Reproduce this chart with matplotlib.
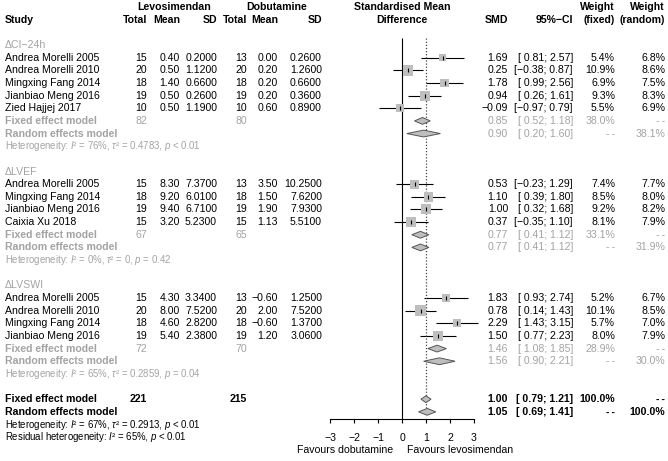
import matplotlib
matplotlib.use("Agg")
import matplotlib.pyplot as plt
from matplotlib.patches import Polygon

plt.rcParams['font.family'] = ['Liberation Sans', 'DejaVu Sans']
plt.rcParams['mathtext.fontset'] = 'custom'
plt.rcParams['mathtext.rm'] = 'Liberation Sans'
plt.rcParams['mathtext.it'] = 'Liberation Sans:italic'

# ---- data ----
group_labels = ['ΔCI−24h', 'ΔLVEF', 'ΔLVSWI']

study_names = [
    ['Andrea Morelli 2005', 'Andrea Morelli 2010', 'Mingxing Fang 2014', 'Jianbiao Meng 2016', 'Zied Hajjej 2017'],
    ['Andrea Morelli 2005', 'Mingxing Fang 2014', 'Jianbiao Meng 2016', 'Caixia Xu 2018'],
    ['Andrea Morelli 2005', 'Andrea Morelli 2010', 'Mingxing Fang 2014', 'Jianbiao Meng 2016'],
]
levo_n = [[15, 20, 18, 19, 10], [15, 18, 19, 15], [15, 20, 18, 19]]
levo_mean = [[0.40, 0.50, 1.40, 0.50, 0.50], [8.30, 9.20, 9.40, 3.20], [4.30, 8.00, 4.60, 5.40]]
levo_sd = [[0.20, 1.12, 0.66, 0.26, 1.19], [7.37, 6.01, 6.71, 5.23], [3.34, 7.52, 2.82, 2.38]]
dobu_n = [[13, 20, 18, 19, 10], [13, 18, 19, 15], [13, 20, 18, 19]]
dobu_mean = [[0.00, 0.20, 0.20, 0.20, 0.60], [3.50, 1.50, 1.90, 1.13], [-0.60, 2.00, -0.60, 1.20]]
dobu_sd = [[0.26, 1.26, 0.66, 0.36, 0.89], [10.25, 7.62, 7.93, 5.51], [1.25, 7.52, 1.37, 3.06]]

smd = [[1.69, 0.25, 1.78, 0.94, -0.09], [0.53, 1.10, 1.00, 0.37], [1.83, 0.78, 2.29, 1.50]]
ci_lo = [[0.81, -0.38, 0.99, 0.26, -0.97], [-0.23, 0.39, 0.32, -0.35], [0.93, 0.14, 1.43, 0.77]]
ci_hi = [[2.57, 0.87, 2.56, 1.61, 0.79], [1.29, 1.80, 1.68, 1.10], [2.74, 1.43, 3.15, 2.23]]
w_fixed = [[5.4, 10.9, 6.9, 9.3, 5.5], [7.4, 8.5, 9.2, 8.1], [5.2, 10.1, 5.7, 8.0]]
w_random = [[6.8, 8.6, 7.5, 8.3, 6.9], [7.7, 8.0, 8.2, 7.9], [6.7, 8.5, 7.0, 7.9]]

# subgroup pooled estimates: (smd, lo, hi, weight)
sub_fixed = [(0.85, 0.52, 1.18, 38.0), (0.77, 0.41, 1.12, 33.1), (1.46, 1.08, 1.85, 28.9)]
sub_random = [(0.90, 0.20, 1.60, 38.1), (0.77, 0.41, 1.12, 31.9), (1.56, 0.90, 2.21, 30.0)]
sub_tot_levo = [82, 67, 72]
sub_tot_dobu = [80, 65, 70]
sub_het = [('76%', '0.4783', '< 0.01'), ('0%', '0', '= 0.42'), ('65%', '0.2859', '= 0.04')]

overall_fixed = (1.00, 0.79, 1.21)
overall_random = (1.05, 0.69, 1.41)
overall_tot_levo = 221
overall_tot_dobu = 215
overall_het = ('67%', '0.2913', '< 0.01')
resid_het = ('65%', '< 0.01')

# ---- layout ----
W, H = 668, 461
ROW0, DROW = 7.05, 12.65          # pixel position of row 0 and row spacing
y_top = (0 - ROW0) / DROW
y_bot = (H - ROW0) / DROW

GREY = '#a3a3a3'
SQ = '#bebebe'
FS = 7.6
FS_HET = 6.9
DASH = '-\u2009-'

fig = plt.figure(figsize=(W / 100, H / 100), dpi=100)
tax = fig.add_axes([0, 0, 1, 1])
tax.set_xlim(0, W)
tax.set_ylim(y_bot, y_top)
tax.axis('off')

fax = fig.add_axes([330 / W, 0, 144 / W, 1])
fax.set_xlim(-3, 3)
fax.set_ylim(y_bot, y_top)
fax.patch.set_alpha(0)

# column right edges (pixels)
X_STUDY = 5
X_LN, X_LM, X_LS = 147, 180, 217
X_DN, X_DM, X_DS = 247, 278, 322
X_SMD, X_CI, X_WF, X_WR = 508, 573, 615, 665


def fnum(v, d):
    s = f'{v:.{d}f}'
    return s.replace('-', '−')


def fci(lo, hi):
    a = fnum(lo, 2)
    if lo >= 0:
        a = ' ' + a
    return f'[{a}; {fnum(hi, 2)}]'


def txt(x, y, s, ha='right', **kw):
    kw.setdefault('fontsize', FS)
    tax.text(x, y, s, ha=ha, va='center', **kw)


def diamond(est, lo, hi, y, h=0.27):
    fax.add_patch(Polygon([(lo, y), (est, y - h), (hi, y), (est, y + h)], closed=True,
                          facecolor=SQ, edgecolor='#555555', lw=0.7, clip_on=False, zorder=4))


def het_text(y, vals, color):
    i2, t2, p = vals
    s = 'Heterogeneity: $I$² = ' + i2 + r', $\tau$² = ' + t2 + ', $p$ ' + p
    txt(X_STUDY, y, s, ha='left', fontsize=FS_HET, color=color)


# ---- header ----
hb = dict(fontweight='bold')
txt((X_LN + X_LS) / 2 - 8, 0, 'Levosimendan', ha='center', **hb)
txt((X_DN + X_DS) / 2 - 8, 0, 'Dobutamine', ha='center', **hb)
txt(X_STUDY, 1, 'Study', ha='left', **hb)
for x, s in [(X_LN, 'Total'), (X_LM, 'Mean'), (X_LS, 'SD'),
             (X_DN, 'Total'), (X_DM, 'Mean'), (X_DS, 'SD')]:
    txt(x, 1, s, **hb)
txt(402, 0, 'Standardised Mean', ha='center', **hb)
txt(402, 1, 'Difference', ha='center', **hb)
txt(X_SMD, 1, 'SMD', **hb)
txt(X_CI, 1, '95%−CI', **hb)
txt(X_WF, 0, 'Weight', **hb)
txt(X_WF, 1, '(fixed)', **hb)
txt(X_WR, 0, 'Weight', **hb)
txt(X_WR, 1, '(random)', **hb)

# ---- subgroups ----
row = 3
for g in range(len(group_labels)):
    txt(X_STUDY, row, group_labels[g], ha='left', color=GREY)
    row += 1
    for i, name in enumerate(study_names[g]):
        txt(X_STUDY, row, name, ha='left')
        txt(X_LN, row, str(levo_n[g][i]))
        txt(X_LM, row, fnum(levo_mean[g][i], 2))
        txt(X_LS, row, fnum(levo_sd[g][i], 4))
        txt(X_DN, row, str(dobu_n[g][i]))
        txt(X_DM, row, fnum(dobu_mean[g][i], 2))
        txt(X_DS, row, fnum(dobu_sd[g][i], 4))
        txt(X_SMD, row, fnum(smd[g][i], 2))
        txt(X_CI, row, fci(ci_lo[g][i], ci_hi[g][i]))
        txt(X_WF, row, f'{w_fixed[g][i]:.1f}%')
        txt(X_WR, row, f'{w_random[g][i]:.1f}%')

        fax.hlines(row, ci_lo[g][i], ci_hi[g][i], color='black', lw=0.8, zorder=2, clip_on=False)
        side_pt = 3.3 * w_fixed[g][i] ** 0.5 * 0.72
        fax.scatter([smd[g][i]], [row], marker='s', s=side_pt ** 2, color=SQ,
                    edgecolors='none', zorder=3, clip_on=False)
        fax.plot([smd[g][i]], [row], marker='|', ms=2.5, mew=0.8, color='black', zorder=4)
        row += 1

    est, lo, hi, w = sub_fixed[g]
    txt(X_STUDY, row, 'Fixed effect model', ha='left', color=GREY, fontweight='bold')
    txt(X_LN, row, str(sub_tot_levo[g]), color=GREY)
    txt(X_DN, row, str(sub_tot_dobu[g]), color=GREY)
    txt(X_SMD, row, fnum(est, 2), color=GREY)
    txt(X_CI, row, fci(lo, hi), color=GREY)
    txt(X_WF, row, f'{w:.1f}%', color=GREY)
    txt(X_WR, row, DASH, color=GREY)
    diamond(est, lo, hi, row)
    row += 1

    est, lo, hi, w = sub_random[g]
    txt(X_STUDY, row, 'Random effects model', ha='left', color=GREY, fontweight='bold')
    txt(X_SMD, row, fnum(est, 2), color=GREY)
    txt(X_CI, row, fci(lo, hi), color=GREY)
    txt(X_WF, row, DASH, color=GREY)
    txt(X_WR, row, f'{w:.1f}%', color=GREY)
    diamond(est, lo, hi, row)
    row += 1

    het_text(row, sub_het[g], GREY)
    row += 2

# ---- overall ----
bold = dict(fontweight='bold')
est, lo, hi = overall_fixed
txt(X_STUDY, row, 'Fixed effect model', ha='left', **bold)
txt(X_LN, row, str(overall_tot_levo), **bold)
txt(X_DN, row, str(overall_tot_dobu), **bold)
txt(X_SMD, row, fnum(est, 2), **bold)
txt(X_CI, row, fci(lo, hi), **bold)
txt(X_WF, row, '100.0%', **bold)
txt(X_WR, row, DASH, **bold)
diamond(est, lo, hi, row)
row += 1

est, lo, hi = overall_random
txt(X_STUDY, row, 'Random effects model', ha='left', **bold)
txt(X_SMD, row, fnum(est, 2), **bold)
txt(X_CI, row, fci(lo, hi), **bold)
txt(X_WF, row, DASH, **bold)
txt(X_WR, row, '100.0%', **bold)
diamond(est, lo, hi, row)
row += 1

het_text(row, overall_het, 'black')
row += 1
txt(X_STUDY, row, 'Residual heterogeneity: $I$² = ' + resid_het[0] + ', $p$ ' + resid_het[1],
    ha='left', fontsize=FS_HET)

# ---- reference lines and axis ----
axis_row = 32.55
fax.vlines(0, 2.45, axis_row, color='black', lw=0.8)
fax.vlines(overall_fixed[0], 2.45, 32.3, color='#444444', lw=0.9, linestyles=(0, (1, 1.5)))

for s in ['top', 'left', 'right']:
    fax.spines[s].set_visible(False)
fax.spines['bottom'].set_position(('data', axis_row))
fax.spines['bottom'].set_bounds(-3, 3)
fax.spines['bottom'].set_linewidth(0.8)
fax.set_yticks([])
fax.set_xticks(range(-3, 4))
fax.tick_params(axis='x', direction='out', length=3, width=0.8, pad=7.5, labelsize=FS)

tax.text(393, 35.0, 'Favours dobutamine', ha='right', va='center', fontsize=FS)
tax.text(407, 35.0, 'Favours levosimendan', ha='left', va='center', fontsize=FS)

fig.savefig('out.png', dpi=100)
